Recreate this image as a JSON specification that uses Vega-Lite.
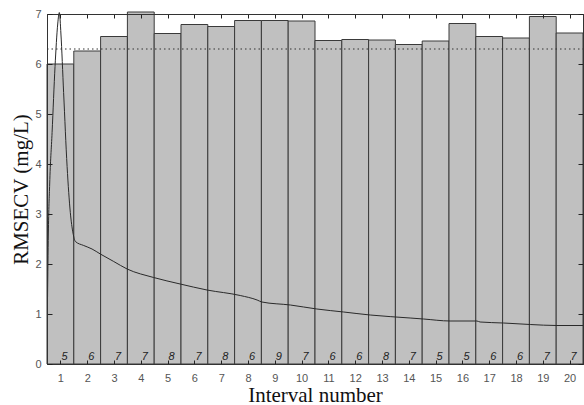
{
  "$schema": "https://vega.github.io/schema/vega-lite/v6.json",
  "autosize": {"type": "none"},
  "padding": {"left": 47, "top": 14, "right": 1, "bottom": 41},
  "width": 536,
  "height": 350,
  "background": "white",
  "config": {
    "view": {"stroke": "#333", "strokeWidth": 1},
    "axis": {
      "labelFont": "Liberation Sans",
      "labelFontSize": 11,
      "labelColor": "#555",
      "titleFont": "Liberation Serif",
      "titleFontSize": 21,
      "titleFontWeight": "normal",
      "titleColor": "#111",
      "domainColor": "#333",
      "tickColor": "#222",
      "grid": false
    }
  },
  "datasets": {
    "bars": [
      {"interval": 1, "rmsecv": 6.0, "nvar": 5},
      {"interval": 2, "rmsecv": 6.26, "nvar": 6},
      {"interval": 3, "rmsecv": 6.55, "nvar": 7},
      {"interval": 4, "rmsecv": 7.04, "nvar": 7},
      {"interval": 5, "rmsecv": 6.61, "nvar": 8},
      {"interval": 6, "rmsecv": 6.79, "nvar": 7},
      {"interval": 7, "rmsecv": 6.75, "nvar": 8},
      {"interval": 8, "rmsecv": 6.87, "nvar": 6},
      {"interval": 9, "rmsecv": 6.87, "nvar": 9},
      {"interval": 10, "rmsecv": 6.86, "nvar": 7},
      {"interval": 11, "rmsecv": 6.47, "nvar": 6},
      {"interval": 12, "rmsecv": 6.49, "nvar": 6},
      {"interval": 13, "rmsecv": 6.48, "nvar": 8},
      {"interval": 14, "rmsecv": 6.39, "nvar": 7},
      {"interval": 15, "rmsecv": 6.46, "nvar": 5},
      {"interval": 16, "rmsecv": 6.81, "nvar": 5},
      {"interval": 17, "rmsecv": 6.55, "nvar": 6},
      {"interval": 18, "rmsecv": 6.52, "nvar": 6},
      {"interval": 19, "rmsecv": 6.95, "nvar": 7},
      {"interval": 20, "rmsecv": 6.62, "nvar": 7}
    ],
    "curve": [
      {"pos": 0.52, "value": 1.34},
      {"pos": 0.55, "value": 2.6},
      {"pos": 0.6, "value": 3.6},
      {"pos": 0.69, "value": 4.63},
      {"pos": 0.8, "value": 5.95},
      {"pos": 0.9, "value": 6.8},
      {"pos": 0.96, "value": 7.03},
      {"pos": 1.02, "value": 6.6},
      {"pos": 1.12, "value": 5.43},
      {"pos": 1.25, "value": 3.95},
      {"pos": 1.37, "value": 3.03},
      {"pos": 1.47, "value": 2.62},
      {"pos": 1.56, "value": 2.45},
      {"pos": 1.87, "value": 2.37},
      {"pos": 2.18, "value": 2.3},
      {"pos": 2.49, "value": 2.2},
      {"pos": 2.99, "value": 2.05},
      {"pos": 3.49, "value": 1.9},
      {"pos": 4.48, "value": 1.73},
      {"pos": 5.47, "value": 1.6},
      {"pos": 6.47, "value": 1.48},
      {"pos": 7.71, "value": 1.37},
      {"pos": 8.34, "value": 1.28},
      {"pos": 8.52, "value": 1.24},
      {"pos": 9.58, "value": 1.18},
      {"pos": 10.57, "value": 1.1},
      {"pos": 11.57, "value": 1.04},
      {"pos": 12.56, "value": 0.98},
      {"pos": 14.05, "value": 0.92},
      {"pos": 14.55, "value": 0.9},
      {"pos": 15.54, "value": 0.86},
      {"pos": 16.54, "value": 0.86},
      {"pos": 16.66, "value": 0.84},
      {"pos": 17.53, "value": 0.82},
      {"pos": 18.53, "value": 0.79},
      {"pos": 19.53, "value": 0.77},
      {"pos": 20.5, "value": 0.77}
    ]
  },
  "layer": [
    {
      "data": {"name": "bars"},
      "mark": {"type": "bar", "width": 26.8, "fill": "#c0c0c0", "stroke": "#3a3a3a", "strokeWidth": 1},
      "encoding": {
        "x": {
          "field": "interval", "type": "quantitative",
          "scale": {"domain": [0.5, 20.5], "nice": false, "zero": false, "padding": 0},
          "axis": {"values": [1,2,3,4,5,6,7,8,9,10,11,12,13,14,15,16,17,18,19,20], "tickSize": -4, "labelPadding": 12, "title": "Interval number", "titlePadding": 1, "labelFlush": false, "zindex": 2}
        },
        "y": {
          "field": "rmsecv", "type": "quantitative",
          "scale": {"domain": [0, 7], "nice": false, "padding": 0},
          "axis": {"values": [0,1,2,3,4,5,6,7], "tickSize": -5, "labelPadding": 11, "title": "RMSECV (mg/L)", "titlePadding": 3, "labelFlush": false, "zindex": 2}
        }
      }
    },
    {
      "data": {"name": "bars"},
      "mark": {"type": "text", "align": "left", "baseline": "alphabetic", "dx": 1, "dy": -4, "fontStyle": "italic", "fontSize": 11, "font": "Liberation Sans", "color": "#222"},
      "encoding": {
        "x": {"field": "interval", "type": "quantitative", "axis": null},
        "y": {"datum": 0, "type": "quantitative", "axis": null},
        "text": {"field": "nvar"}
      }
    },
    {
      "data": {"name": "curve"},
      "mark": {"type": "line", "color": "#2a2a2a", "strokeWidth": 1, "interpolate": "monotone"},
      "encoding": {
        "x": {"field": "pos", "type": "quantitative", "axis": null},
        "y": {"field": "value", "type": "quantitative", "axis": null}
      }
    },
    {
      "data": {"values": [{}]},
      "mark": {"type": "rule", "color": "#333", "strokeWidth": 1, "strokeDash": [1.5, 3]},
      "encoding": {
        "y": {"datum": 6.3, "type": "quantitative", "axis": {"orient": "right", "values": [0,1,2,3,4,5,6,7], "tickSize": -5, "labels": false, "title": null, "zindex": 2}},
        "x": {"datum": 0.5, "type": "quantitative", "axis": {"orient": "top", "values": [1,2,3,4,5,6,7,8,9,10,11,12,13,14,15,16,17,18,19,20], "tickSize": -4, "labels": false, "title": null, "zindex": 2}},
        "x2": {"datum": 20.5}
      }
    }
  ],
  "resolve": {"axis": {"x": "independent", "y": "independent"}}
}
